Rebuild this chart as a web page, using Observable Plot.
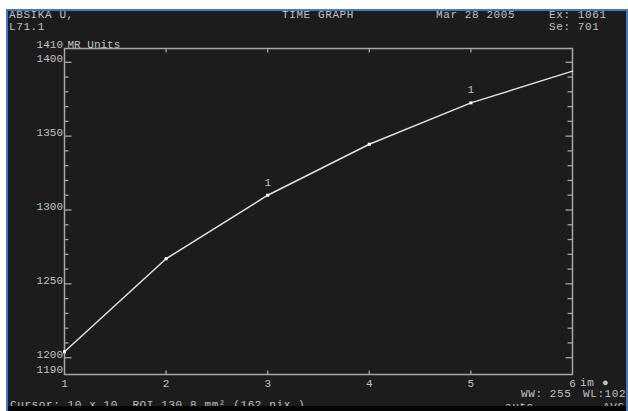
<!DOCTYPE html>
<html>
<head>
<meta charset="utf-8">
<script src="https://cdn.jsdelivr.net/npm/d3@7"></script>
<script src="https://cdn.jsdelivr.net/npm/@observablehq/plot@0.6"></script>
<style>
  html, body { margin: 0; padding: 0; background: #ffffff; width: 628px; height: 411px; overflow: hidden; }
  #panel {
    position: absolute; left: 6px; top: 9px; width: 622px; height: 402px;
    box-sizing: border-box; background: #1c1c1c; overflow: hidden;
    border-left: 2px solid #3b7cc6; border-top: 2px solid #3b7cc6; border-right: 2px solid #3b7cc6;
  }
  #layer { position: absolute; left: -8px; top: -11px; width: 628px; height: 411px; }
  #layer svg { position: absolute; left: 0; top: 0; }
  #band { position: absolute; left: 0; right: 0; top: 395px; height: 12px; background: #050505; }
</style>
</head>
<body>
<div id="panel"><div id="layer"></div><div id="band"></div></div>
<script>
// Time graph: signal intensity (MR units) per image index
const imageIndex = [1, 2, 3, 4, 5, 6];
const mrUnits = [1204, 1267, 1310, 1344.5, 1372.5, 1394];
const flaggedImages = [3, 5];
const flagText = "1";

// axis labels and tick positions
const yLabels = [1190, 1200, 1250, 1300, 1350, 1400, 1410];
const yMajorTicks = [1200, 1250, 1300, 1350, 1400];
const yMinorTicks = [1210, 1220, 1230, 1240, 1260, 1270, 1280, 1290, 1310, 1320, 1330, 1340, 1360, 1370, 1380, 1390];
const xTicks = [2, 3, 4, 5];
const xLabels = [1, 2, 3, 4, 5, 6];
const yUnitLabel = "MR Units";

// header / status texts
const headerLeft = ["ABSIKA U,", "L71.1"];
const headerTitle = "TIME GRAPH";
const headerDate = "Mar 28 2005";
const headerExam = ["Ex: 1061", "Se: 701"];
const statusCursor = "Cursor: 10 x 10  ROI 130.8 mm\u00b2 (162 pix.)";
const statusWindow = ["WW: 255", "WL:102"];
const statusImages = ["im", "\u25cf"];
const statusMode = ["auto", "AVG"];

const points = imageIndex.map((x, i) => ({x, v: mrUnits[i]}));
const flagged = points.filter(d => flaggedImages.includes(d.x));
const markers = points.filter(d => d.x < 6);

const font = "'Liberation Mono', 'DejaVu Sans Mono', monospace";
const textColor = "#c0c0c0";
const axisColor = "#a6a6a6";

// short straight tick drawn from the anchor point
const tickShape = {draw(context, l) { context.moveTo(0, 0); context.lineTo(0, -l); }};
const inwardTicks = (data, anchor, rotate, length) =>
  Plot.vector(data, {
    ...(anchor === "left" || anchor === "right" ? {y: d => d} : {x: d => d}),
    frameAnchor: anchor, rotate, length, anchor: "start",
    shape: tickShape, stroke: axisColor, strokeWidth: 1.3, fill: "none", strokeLinecap: "butt"
  });

const chart = Plot.plot({
  width: 628,
  height: 411,
  marginTop: 48,
  marginRight: 56,
  marginBottom: 37,
  marginLeft: 64,
  style: {background: "transparent", color: textColor, fontFamily: font, fontSize: "11px", overflow: "visible"},
  x: {domain: [1, 6], axis: null},
  y: {domain: [1190, 1410], range: [372, 47], axis: null},
  marks: [
    Plot.frame({stroke: axisColor, strokeWidth: 1.5}),
    inwardTicks(yMajorTicks, "left", 90, 7),
    inwardTicks(yMinorTicks, "left", 90, 4),
    inwardTicks(yMajorTicks, "right", -90, 7),
    inwardTicks(yMinorTicks, "right", -90, 5),
    inwardTicks(xTicks, "bottom", 0, 4),
    inwardTicks(xTicks, "top", 180, 4),
    Plot.text(yLabels, {
      y: d => d, frameAnchor: "left", dx: -1.5, textAnchor: "end", lineAnchor: "bottom",
      text: d => String(d), fill: textColor, style: "letter-spacing:0.6px"
    }),
    Plot.text([yUnitLabel], {
      y: () => 1410, frameAnchor: "left", dx: 3, textAnchor: "start", lineAnchor: "bottom",
      text: d => d, fill: textColor, style: "letter-spacing:0.6px"
    }),
    Plot.text(xLabels, {
      x: d => d, frameAnchor: "bottom", dy: 12, lineAnchor: "bottom",
      text: d => String(d), fill: textColor
    }),
    Plot.line(points, {x: "x", y: "v", stroke: "#e0e0e0", strokeWidth: 1.5}),
    Plot.dot(markers, {x: "x", y: "v", symbol: "square", r: 1.7, fill: "#ffffff", stroke: null}),
    Plot.text(flagged, {x: "x", y: "v", text: () => flagText, dy: -13, fill: textColor})
  ]
});

document.getElementById("layer").appendChild(chart);

// status texts placed in page coordinates on the same svg
const svg = d3.select(chart);
const texts = [
  [headerLeft[0], 9, 17.5],
  [headerLeft[1], 9, 29.5],
  [headerTitle, 282, 17.5],
  [headerDate, 436, 17.5],
  [headerExam[0], 549, 17.5],
  [headerExam[1], 549, 29.5],
  [statusImages[0], 580, 386],
  [statusImages[1], 602, 386],
  [statusWindow[0], 521, 397],
  [statusWindow[1], 583, 397],
  [statusCursor, 10, 407.5],
  [statusMode[0], 505, 410],
  [statusMode[1], 603, 410]
];
svg.append("g")
  .attr("font-family", font)
  .attr("font-size", 11)
  .attr("fill", textColor)
  .attr("text-anchor", "start")
  .style("letter-spacing", "0.6px")
  .style("white-space", "pre")
  .selectAll("text")
  .data(texts)
  .join("text")
  .attr("x", d => d[1])
  .attr("y", d => d[2])
  .text(d => d[0]);
</script>
</body>
</html>
